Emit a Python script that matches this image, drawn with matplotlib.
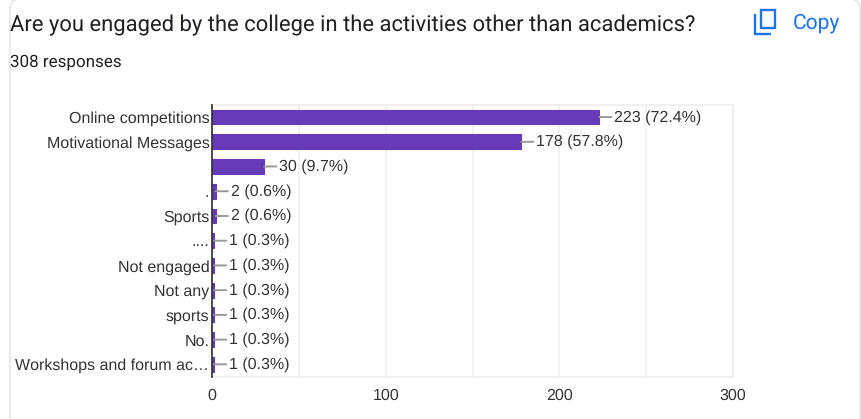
import matplotlib
matplotlib.use("Agg")
import matplotlib.pyplot as plt
from matplotlib.patches import FancyBboxPatch, Rectangle, PathPatch
from matplotlib.path import Path

plt.rcParams["text.hinting"] = "no_hinting"
plt.rcParams["text.hinting_factor"] = 1

categories = ["Online competitions", "Motivational Messages", "", ".", "Sports", "....",
              "Not engaged", "Not any", "sports", "No.", "Workshops and forum ac\u2026"]
counts = [223, 178, 30, 2, 2, 1, 1, 1, 1, 1, 1]
percents = ["72.4", "57.8", "9.7", "0.6", "0.6", "0.3", "0.3", "0.3", "0.3", "0.3", "0.3"]
x_major = [0, 100, 200, 300]
x_grid = [50, 100, 150, 200, 250, 300]

title = "Are you engaged by the college in the activities other than academics?"
subtitle = "308 responses"

W, H = 862, 419
fig = plt.figure(figsize=(W / 100, H / 100), dpi=100, facecolor="white")

# overlay in pixel coords for the card, header and copy icon
bg = fig.add_axes([0, 0, 1, 1])
bg.set_xlim(0, W)
bg.set_ylim(H, 0)
bg.axis("off")

card = FancyBboxPatch((10, -1), 850, 500, boxstyle="round,pad=0,rounding_size=10",
                      fc="white", ec="#e6e6e6", lw=1.2)
bg.add_patch(card)

bg.text(10, 25, title, family="Roboto", fontsize=15.75, color="#202124", va="center", ha="left")
bg.text(10, 62, subtitle, family="Roboto", fontsize=12.1, color="#202124", va="center", ha="left")

# copy icon
blue = "#1a73e8"
bg.add_patch(Rectangle((761, 10), 14.5, 18.5, fc="none", ec=blue, lw=1.7))
bg.add_patch(PathPatch(Path([(755, 14), (755, 34), (771, 34)]), fc="none", ec=blue, lw=1.7))
bg.text(793, 23, "Copy", family="Roboto", fontsize=15.1, color=blue, va="center", ha="left")

ax = fig.add_axes([212.2 / W, 1 - 376.7 / H, (733 - 212.2) / W, (376.7 - 104.7) / H])
ax.patch.set_alpha(0)
ypos = list(range(len(categories)))
# thin edge so the one-response bars still show past the axis line
ax.barh(ypos, counts, height=0.6, color="#673ab7", edgecolor="#673ab7", linewidth=0.8, zorder=3)
ax.set_xlim(0, 300)
ax.set_ylim(len(categories) - 0.5, -0.5)

for v in x_grid:
    ax.axvline(v, color="#efefef", lw=1.2, zorder=1)
ax.set_xticks(x_major)
ax.set_yticks(ypos)
ax.set_yticklabels(categories)
ax.tick_params(axis="both", length=0, labelsize=11.55, labelcolor="#333333", labelfontfamily="Liberation Sans")
ax.tick_params(axis="y", pad=2)
ax.tick_params(axis="x", pad=8)

for s in ["top", "right", "bottom"]:
    ax.spines[s].set_color("#efefef")
    ax.spines[s].set_linewidth(1.2)
ax.spines["left"].set_color("#333333")
ax.spines["left"].set_linewidth(1.25)
ax.spines["left"].set_zorder(5)

for i, (c, p) in enumerate(zip(counts, percents)):
    ax.annotate(f"{c} ({p}%)", xy=(c, i), xytext=(15, 0), textcoords="offset pixels",
                va="center", ha="left", fontsize=11.55, color="#333333", family="Liberation Sans",
                arrowprops=dict(arrowstyle="-", color="#999999", lw=1.4, shrinkA=0, shrinkB=0,
                                relpos=(0, 0.5)), zorder=4)

fig.savefig("out.png", dpi=100)
